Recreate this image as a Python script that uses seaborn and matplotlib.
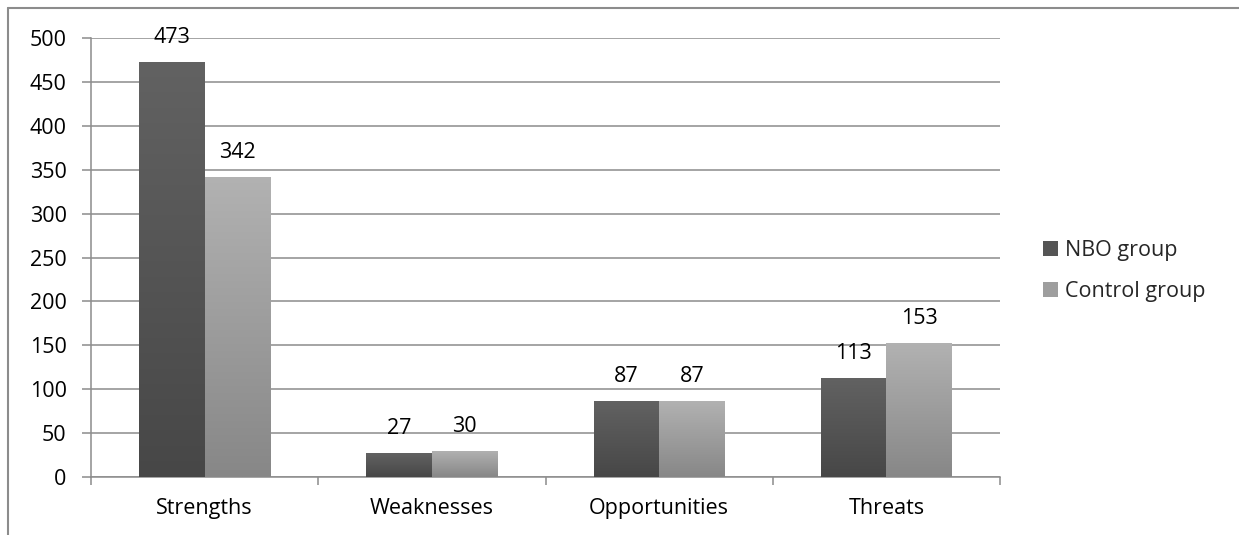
#!/usr/bin/env python3

# ===================== LIBRARIES =====================

import matplotlib
matplotlib.use("Agg")
import matplotlib.pyplot as plt
from matplotlib.colors import LinearSegmentedColormap
from matplotlib.lines import Line2D
from matplotlib.patches import Patch
import seaborn as sns
import pandas as pd
import numpy as np

# ===================== DATA =====================

categories = ["Strengths", "Weaknesses", "Opportunities", "Threats"]
groups = ["NBO group", "Control group"]
nbo_values = [473, 27, 87, 113]
control_values = [342, 30, 87, 153]
y_ticks = [0, 50, 100, 150, 200, 250, 300, 350, 400, 450, 500]

# ===================== STYLE =====================

sns.set_theme(style="white")
plt.rcParams["font.family"] = ["Open Sans", "DejaVu Sans"]

grey = "#8c8c8c"
fs = 15.5
gradients = {
    "NBO group": ("#626262", "#474747"),
    "Control group": ("#b2b2b2", "#878787"),
}
legend_colors = {"NBO group": "#555555", "Control group": "#9e9e9e"}

# ===================== DATAFRAME =====================

df = pd.DataFrame({
    "Category": categories * 2,
    "Group": [groups[0]] * len(categories) + [groups[1]] * len(categories),
    "Value": nbo_values + control_values,
})

# ===================== PLOT =====================

fig = plt.figure(figsize=(12.39, 5.35), dpi=100)
ax = fig.add_axes([91 / 1239, 1 - 477 / 535, (1000 - 91) / 1239, (477 - 38) / 535])

sns.barplot(
    data=df, x="Category", y="Value", hue="Group",
    order=categories, hue_order=groups,
    width=0.577, gap=0, palette=legend_colors,
    saturation=1, legend=False, ax=ax, zorder=3,
)

# gradient fill for each bar (top lighter, bottom darker)
grad = np.linspace(0, 1, 256).reshape(-1, 1)
for container, grp in zip(ax.containers, groups):
    cmap = LinearSegmentedColormap.from_list(grp, list(gradients[grp]))
    for bar in container:
        x0, y0 = bar.get_x(), bar.get_y()
        w, h = bar.get_width(), bar.get_height()
        img = ax.imshow(grad, cmap=cmap, aspect="auto", origin="upper",
                        extent=(x0, x0 + w, y0, y0 + h), zorder=3)
        img.set_clip_path(bar)
        bar.set_facecolor("none")
        bar.set_edgecolor("none")
    ax.bar_label(container, padding=10, fontsize=fs, color="black")

ax.set_xlim(-0.5, len(categories) - 0.5)
ax.set_ylim(0, 500)
ax.set_aspect("auto")

# axes, grid and ticks
ax.set_yticks(y_ticks)
ax.yaxis.grid(True, color=grey, linewidth=1.1, zorder=0)
ax.xaxis.grid(False)
ax.set_axisbelow(True)
for side in ["top", "right"]:
    ax.spines[side].set_visible(False)
for side in ["left", "bottom"]:
    ax.spines[side].set_color(grey)
    ax.spines[side].set_linewidth(1.1)

ax.tick_params(axis="y", which="major", left=True, length=6.5, width=1.1,
               color=grey, pad=11, labelsize=fs, labelcolor="black")
ax.set_xticks(list(np.arange(len(categories))))
ax.set_xticks(np.arange(len(categories) + 1) - 0.5, minor=True)
ax.tick_params(axis="x", which="minor", bottom=True, length=5.5, width=1.1,
               color=grey)
ax.tick_params(axis="x", which="major", bottom=False, length=0, pad=15,
               labelsize=fs, labelcolor="black")
ax.set_xlabel("")
ax.set_ylabel("")

# legend
handles = [Patch(facecolor=legend_colors[g], edgecolor="none") for g in groups]
fig.legend(handles, groups, loc="center left",
           bbox_to_anchor=(1024 / 1239, 1 - 271 / 535),
           frameon=False, fontsize=fs, handlelength=0.7, handleheight=0.7,
           handletextpad=0.3, labelspacing=0.95)

# outer chart frame (top and left edges)
fig.add_artist(Line2D([8 / 1239, 1], [1 - 7.5 / 535, 1 - 7.5 / 535],
                      transform=fig.transFigure, color=grey, linewidth=1.5))
fig.add_artist(Line2D([8 / 1239, 8 / 1239], [0, 1 - 7.5 / 535],
                      transform=fig.transFigure, color=grey, linewidth=1.5))

fig.savefig("out.png", dpi=100)
plt.close("all")
